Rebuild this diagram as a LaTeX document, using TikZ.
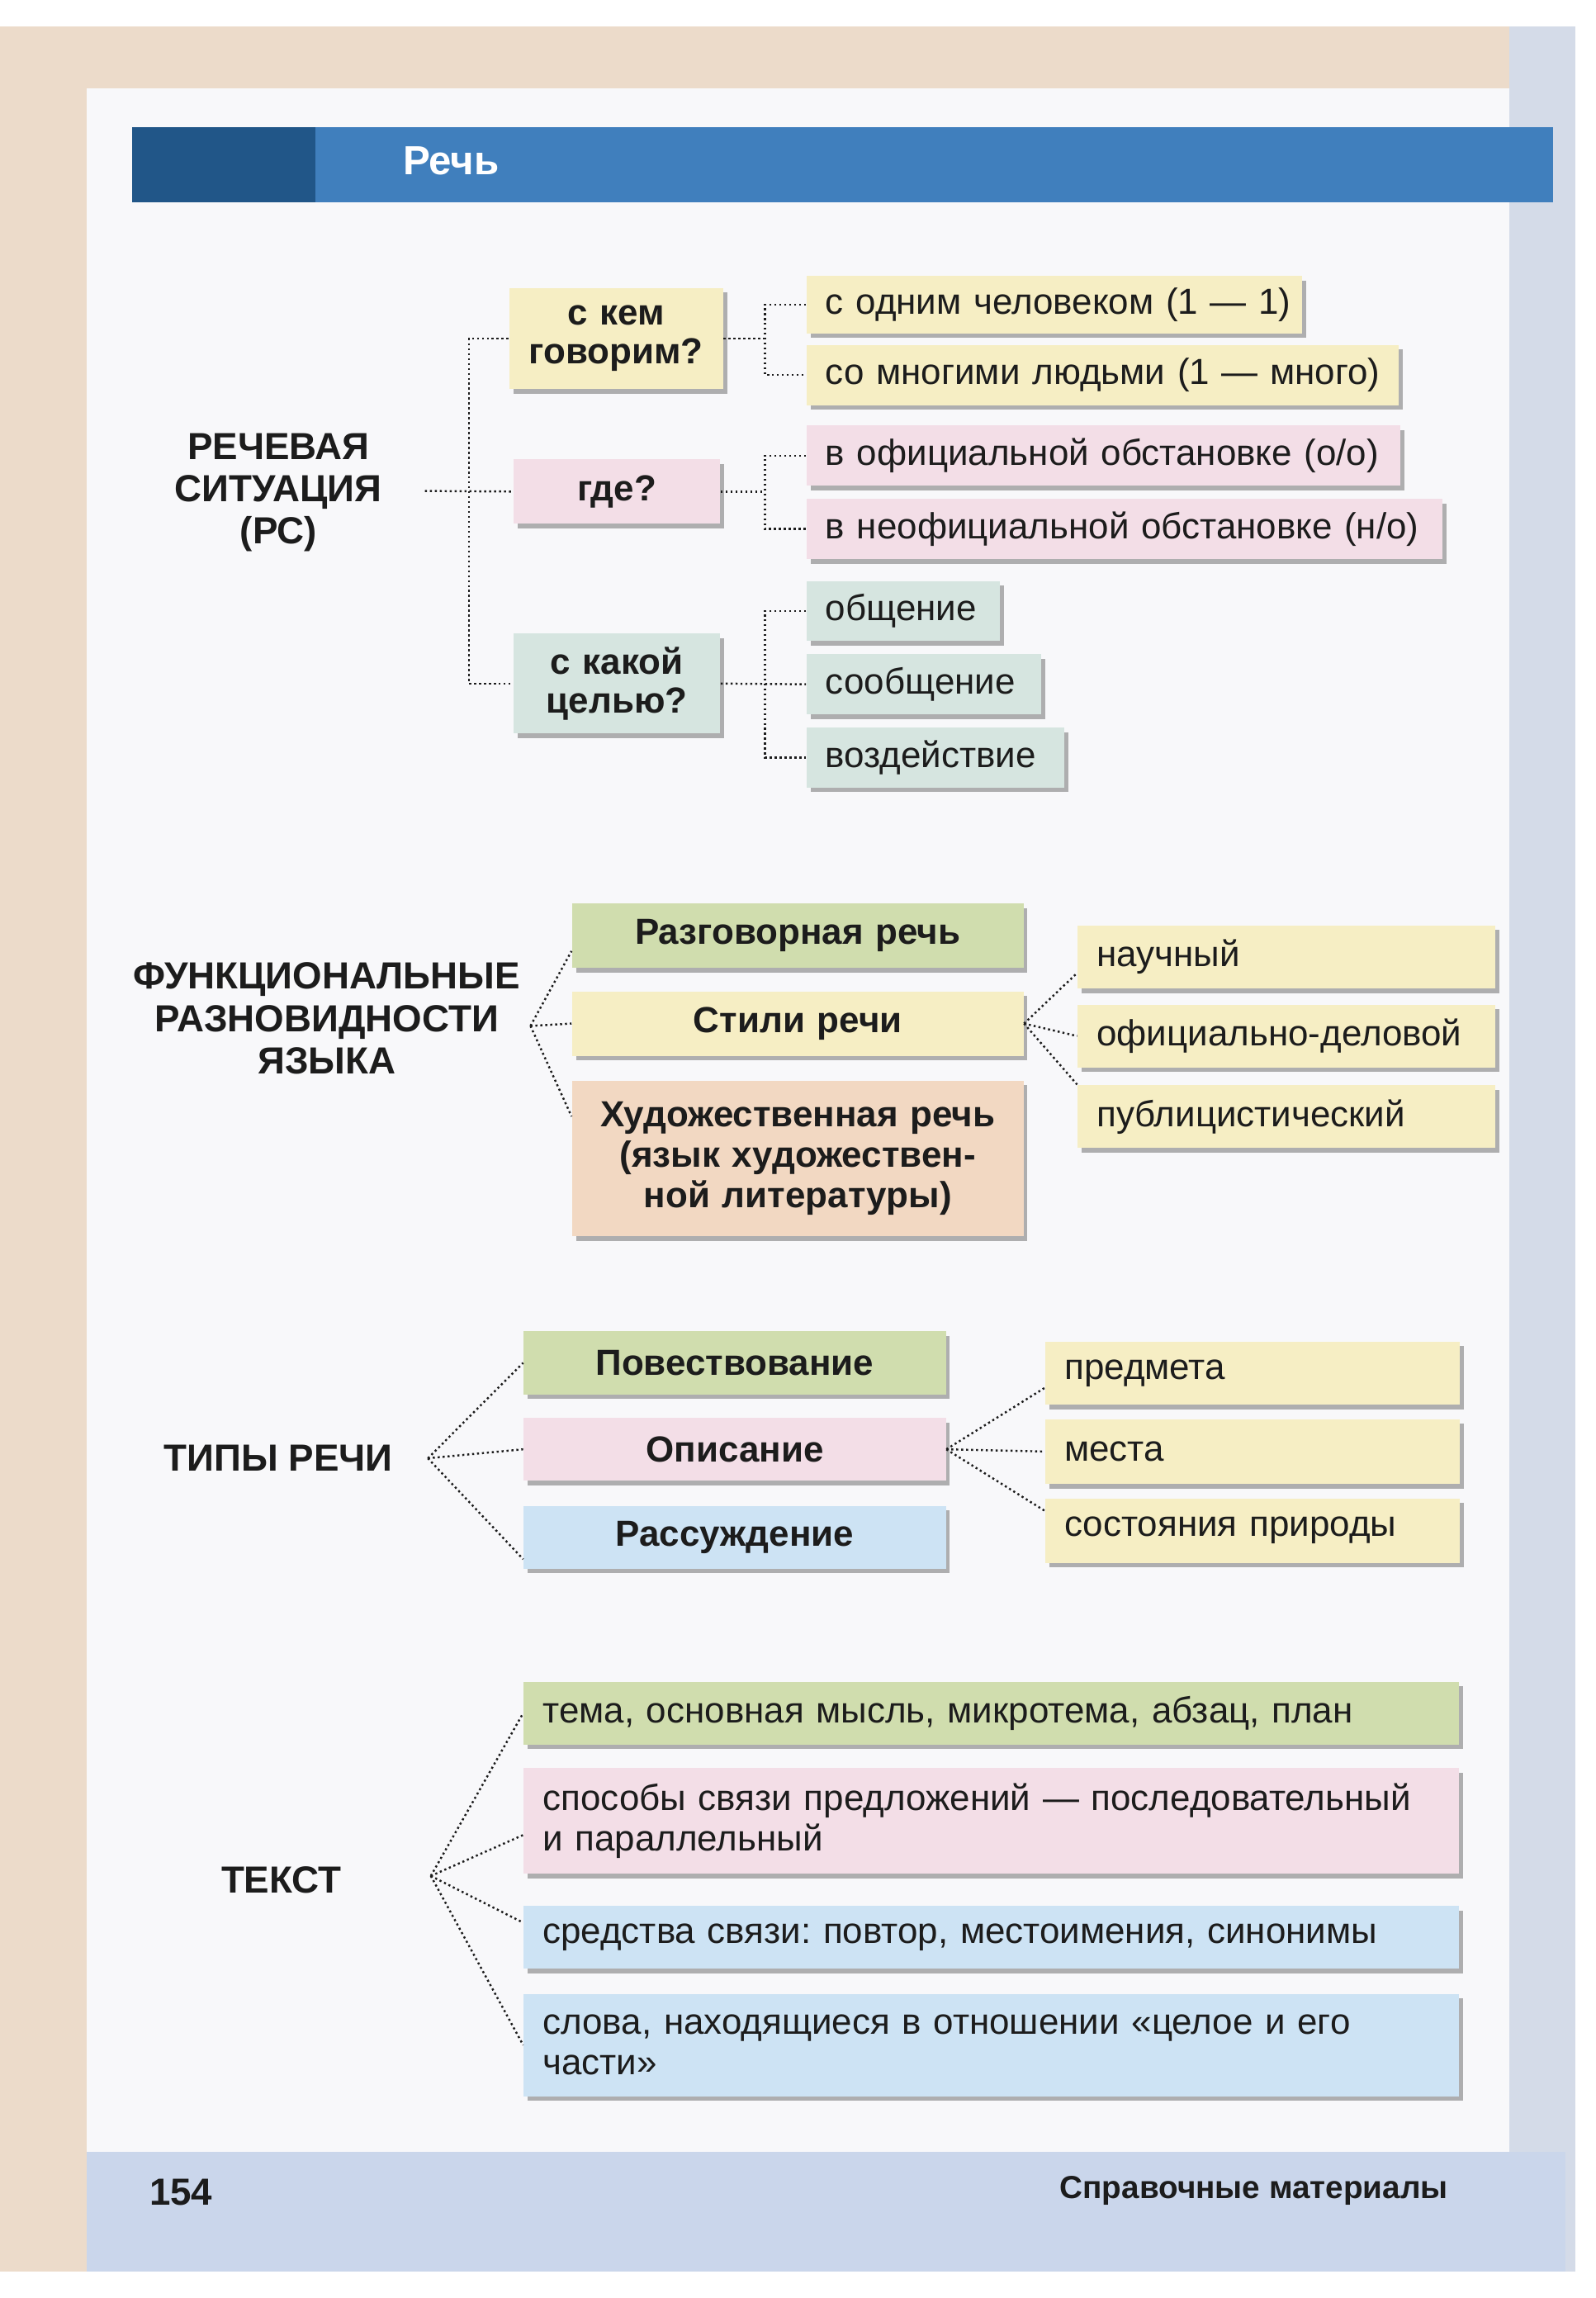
\documentclass[tikz,border=0pt]{standalone}
\usepackage{fontspec}
\setmainfont{Liberation Sans}
\usepackage{tikz}
\usetikzlibrary{shadows}
\definecolor{pagebg}{RGB}{236,219,202}
\definecolor{panel}{RGB}{248,248,250}
\definecolor{band}{RGB}{202,214,235}
\definecolor{edge}{RGB}{212,219,232}
\definecolor{bar}{RGB}{64,127,189}
\definecolor{bardark}{RGB}{33,86,136}
\definecolor{cyel}{RGB}{246,238,196}
\definecolor{cpink}{RGB}{243,222,231}
\definecolor{cteal}{RGB}{214,229,224}
\definecolor{cgreen}{RGB}{208,221,174}
\definecolor{cpeach}{RGB}{242,216,194}
\definecolor{cblue}{RGB}{205,227,244}
\definecolor{ink}{RGB}{28,28,28}
\newcommand{\spx}{0.01775cm}
\frenchspacing

\begin{document}
\begin{tikzpicture}[x=0.01775cm, y=-0.01775cm, ink,
    card/.style={fill=#1, inner sep=0pt, anchor=north west,
      font=\fontsize{12.5}{14}\selectfont,
      drop shadow={shadow xshift=1.4pt, shadow yshift=-1.6pt, fill=black!60, opacity=0.5}},
    lcard/.style={card=#1, align=left},
    ccard/.style={card=#1, align=center, font=\fontsize{12.5}{13.5}\selectfont\bfseries},
    head/.style={font=\fontsize{13}{14.6}\selectfont\bfseries, align=center},
    link/.style={densely dotted, line width=0.7pt}]
  \useasboundingbox (0,0) rectangle (1089,1568);
  % page
  \fill[white] (0,0) rectangle (1089,1568);
  \fill[pagebg] (0,18) rectangle (1030,1550);
  \fill[edge] (1030,18) rectangle (1075,1550);
  \fill[panel] (59,60) rectangle (1030,1468);
  \fill[band] (59,1468) rectangle (1068,1550);
  \fill[bar] (90,87) rectangle (1060,138);
  \fill[bardark] (90,87) rectangle (215,138);
  \node[anchor=west, white, font=\fontsize{14}{16}\selectfont\bfseries] (title) at (268,110) {Речь};

  % речевая ситуация
  \node[head] (rs) at (190,336) {РЕЧЕВАЯ\\СИТУАЦИЯ\\(РС)};
  \node[ccard=cyel, minimum width=146*\spx, minimum height=69*\spx, text width=130*\spx] (kem) at (347,196) {с кем\\говорим?};
  \node[ccard=cpink, minimum width=141*\spx, minimum height=44*\spx, text width=125*\spx] (gde) at (350,313) {где?};
  \node[ccard=cteal, minimum width=141*\spx, minimum height=68*\spx, text width=125*\spx] (cel) at (350,432) {с какой\\целью?};
  \node[lcard=cyel, minimum width=338*\spx, minimum height=39*\spx, text width=312*\spx] (odin) at (550,188) {\mbox{с одним человеком (1~—~1)}};
  \node[lcard=cyel, minimum width=404*\spx, minimum height=41*\spx, text width=378*\spx] (mnogo) at (550,235) {\mbox{со многими людьми (1~—~много)}};
  \node[lcard=cpink, minimum width=405*\spx, minimum height=41*\spx, text width=379*\spx] (ofic) at (550,290) {в официальной обстановке (о/о)};
  \node[lcard=cpink, minimum width=434*\spx, minimum height=41*\spx, text width=408*\spx] (neof) at (550,340) {в неофициальной обстановке (н/о)};
  \node[lcard=cteal, minimum width=132*\spx, minimum height=41*\spx, text width=106*\spx] (obsh) at (550,396) {общение};
  \node[lcard=cteal, minimum width=160*\spx, minimum height=41*\spx, text width=134*\spx] (soob) at (550,446) {сообщение};
  \node[lcard=cteal, minimum width=176*\spx, minimum height=41*\spx, text width=150*\spx] (vozd) at (550,496) {воздействие};
  \coordinate (hubrs) at (290,335);
  \coordinate (busrs) at (320,335);
  \coordinate (buskem) at (522,230);
  \coordinate (busgde) at (522,335);
  \coordinate (buscel) at (522,466);
  \draw[link] (hubrs) -- (gde.west);
  \draw[link] (kem.west) -| (busrs) |- (cel.west);
  \draw[link] (kem.east) -- (kem.east -| buskem);
  \draw[link] (odin.west) -| (buskem) |- (mnogo.west);
  \draw[link] (gde.east) -- (gde.east -| busgde);
  \draw[link] (ofic.west) -| (busgde) |- (neof.west);
  \draw[link] (cel.east) -- (soob.west);
  \draw[link] (obsh.west) -| (buscel) |- (vozd.west);

  % функциональные разновидности
  \node[head] (fr) at (223,695) {ФУНКЦИОНАЛЬНЫЕ\\РАЗНОВИДНОСТИ\\ЯЗЫКА};
  \node[ccard=cgreen, minimum width=308*\spx, minimum height=44*\spx, text width=290*\spx] (razg) at (390,616) {Разговорная речь};
  \node[ccard=cyel, minimum width=308*\spx, minimum height=44*\spx, text width=290*\spx] (stili) at (390,676) {Стили речи};
  \node[ccard=cpeach, minimum width=308*\spx, minimum height=106*\spx, text width=290*\spx, font=\fontsize{12.5}{14}\selectfont\bfseries] (hud) at (390,737) {Художественная речь\\(язык художествен-\\ной литературы)};
  \node[lcard=cyel, minimum width=285*\spx, minimum height=43*\spx, text width=259*\spx] (nauch) at (735,631) {научный};
  \node[lcard=cyel, minimum width=285*\spx, minimum height=43*\spx, text width=259*\spx] (ofdel) at (735,685) {официально-деловой};
  \node[lcard=cyel, minimum width=285*\spx, minimum height=43*\spx, text width=259*\spx] (publ) at (735,740) {публицистический};
  \coordinate (hubfr) at (362,700);
  \draw[link] (hubfr) -- ([yshift=6pt]razg.south west);
  \draw[link] (hubfr) -- (stili.west);
  \draw[link] (hubfr) -- ([yshift=-12.5pt]hud.north west);
  \draw[link] (stili.east) -- ([yshift=5.5pt]nauch.south west);
  \draw[link] (stili.east) -- (ofdel.west);
  \draw[link] (stili.east) -- (publ.north west);

  % типы речи
  \node[head] (tr) at (190,995) {ТИПЫ РЕЧИ};
  \node[ccard=cgreen, minimum width=288*\spx, minimum height=43*\spx, text width=270*\spx] (povest) at (357,908) {Повествование};
  \node[ccard=cpink, minimum width=288*\spx, minimum height=43*\spx, text width=270*\spx] (opis) at (357,967) {Описание};
  \node[ccard=cblue, minimum width=288*\spx, minimum height=43*\spx, text width=270*\spx] (rass) at (357,1027) {Рассуждение};
  \node[lcard=cyel, minimum width=283*\spx, minimum height=43*\spx, text width=257*\spx] (predm) at (713,915) {предмета};
  \node[lcard=cyel, minimum width=283*\spx, minimum height=44*\spx, text width=257*\spx] (mesta) at (713,968) {места};
  \node[lcard=cyel, minimum width=283*\spx, minimum height=44*\spx, text width=257*\spx] (sost) at (713,1022) {состояния природы};
  \coordinate (hubtr) at (292,995);
  \draw[link] (hubtr) -- (povest.west);
  \draw[link] (hubtr) -- (opis.west);
  \draw[link] (hubtr) -- ([yshift=3.5pt]rass.south west);
  \draw[link] (opis.east) -- ([yshift=6pt]predm.south west);
  \draw[link] (opis.east) -- (mesta.west);
  \draw[link] (opis.east) -- ([yshift=-4.5pt]sost.north west);

  % текст
  \node[head] (tx) at (192,1283) {ТЕКСТ};
  \node[lcard=cgreen, minimum width=638*\spx, minimum height=43*\spx, text width=612*\spx] (tema) at (357,1147) {тема, основная мысль, микротема, абзац, план};
  \node[lcard=cpink, minimum width=638*\spx, minimum height=72*\spx, text width=612*\spx] (sposob) at (357,1206) {способы связи предложений — последовательный\\и параллельный};
  \node[lcard=cblue, minimum width=638*\spx, minimum height=43*\spx, text width=612*\spx] (sredst) at (357,1300) {средства связи: повтор, местоимения, синонимы};
  \node[lcard=cblue, minimum width=638*\spx, minimum height=70*\spx, text width=612*\spx] (slova) at (357,1360) {слова, находящиеся в отношении «целое и его\\части»};
  \coordinate (hubtx) at (294,1280);
  \draw[link] (hubtx) -- (tema.west);
  \draw[link] (hubtx) -- ([yshift=13.5pt]sposob.south west);
  \draw[link] (hubtx) -- ([yshift=-6pt]sredst.north west);
  \draw[link] (hubtx) -- (slova.west);

  % footer
  \node[anchor=west, font=\fontsize{13}{15}\selectfont\bfseries] (num) at (95,1496) {154};
  \node[anchor=east, font=\fontsize{11}{13}\selectfont\bfseries] (src) at (995,1495) {Справочные материалы};
\end{tikzpicture}
\end{document}
